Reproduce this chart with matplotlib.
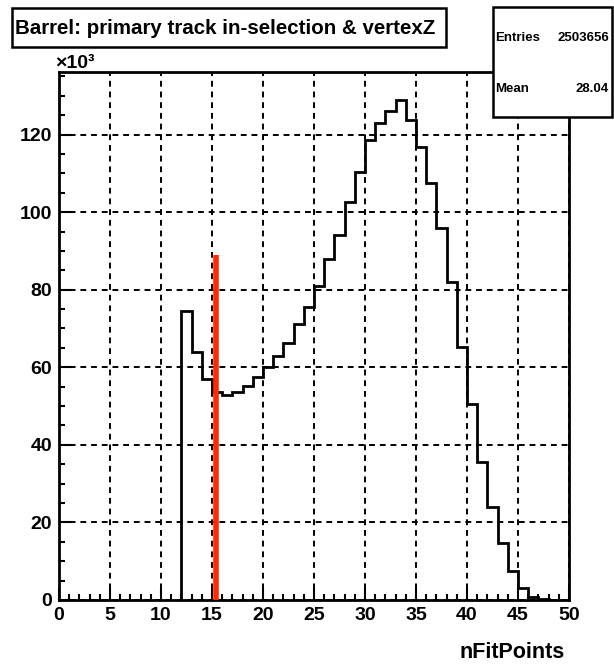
import numpy as np
import matplotlib
matplotlib.use("Agg")
from matplotlib import pyplot as plt
from matplotlib.patches import Rectangle
from matplotlib.ticker import MultipleLocator

# nFitPoints histogram (counts in units of 10^3), one bin per integer
bin_edges = np.arange(12, 49)
counts = [74.5, 64.0, 56.9, 53.7, 52.8, 53.7, 55.2, 57.6, 60.0, 62.9,
          66.3, 71.1, 75.6, 80.9, 87.8, 94.1, 102.7, 110.4, 118.6, 122.9,
          126.0, 129.0, 123.7, 116.8, 107.4, 95.8, 81.9, 65.3, 50.5, 35.6,
          23.9, 14.6, 7.6, 3.0, 0.8, 0.2]
cut_x = 15.4
cut_height = 89
title = "Barrel: primary track in-selection & vertexZ"
n_entries = "2503656"
mean_val = "28.04"

W, H = 614, 666
plt.rcParams['font.family'] = ['Liberation Sans', 'DejaVu Sans']
plt.rcParams['font.weight'] = 'bold'

fig = plt.figure(figsize=(W / 100, H / 100), dpi=100)


def fx(px):
    return px / W


def fy(py):
    return 1 - py / H


ax = fig.add_axes([fx(59), fy(600), fx(569) - fx(59), fy(71.7) - fy(600)])
ax.set_xlim(0, 50)
ax.set_ylim(0, 136.2)

ax.stairs(counts, bin_edges, baseline=0, color='black', lw=2.0, zorder=3)
ax.plot([cut_x, cut_x], [0, cut_height], color='#ff2a00', lw=4.0,
        solid_capstyle='butt', zorder=4)

ax.xaxis.set_major_locator(MultipleLocator(5))
ax.xaxis.set_minor_locator(MultipleLocator(1))
ax.yaxis.set_major_locator(MultipleLocator(20))
ax.yaxis.set_minor_locator(MultipleLocator(5))
ax.grid(True, which='major', color='black', ls=(0, (3, 2.5)), lw=1.4)
ax.tick_params(which='both', direction='in', width=1.5, color='black',
               labelsize=14, top=False, right=False)
ax.tick_params(which='major', length=9, pad=5)
ax.tick_params(which='minor', length=4.5)
for s in ax.spines.values():
    s.set_linewidth(2.0)
ax.set_xticks(np.arange(0, 51, 5))
ax.set_xticklabels([str(v) for v in range(0, 51, 5)], fontweight='bold')
ax.set_yticks(np.arange(0, 121, 20))
ax.set_yticklabels([str(v) for v in range(0, 121, 20)], fontweight='bold')

fig.text(fx(565), fy(652), "nFitPoints", ha='right', va='center',
         fontsize=15.5, fontweight='bold')
fig.text(fx(55), fy(63), "×10³", ha='left', va='center',
         fontsize=14, fontweight='bold')

# title box
fig.add_artist(Rectangle((fx(12), fy(47)), fx(446) - fx(12), fy(8) - fy(47),
                         transform=fig.transFigure, facecolor='white',
                         edgecolor='black', lw=1.8))
fig.text(fx(15), fy(28), title, ha='left', va='center',
         fontsize=14.8, fontweight='bold')

# statistics box
fig.add_artist(Rectangle((fx(493), fy(117)), fx(612) - fx(493), fy(7) - fy(117),
                         transform=fig.transFigure, facecolor='white',
                         edgecolor='black', lw=1.8, zorder=5))
fig.text(fx(495), fy(38), "Entries", ha='left', va='center', fontsize=9.5,
         fontweight='bold', zorder=6)
fig.text(fx(609), fy(38), n_entries, ha='right', va='center', fontsize=9.5,
         fontweight='bold', zorder=6)
fig.text(fx(495), fy(89), "Mean", ha='left', va='center', fontsize=9.5,
         fontweight='bold', zorder=6)
fig.text(fx(609), fy(89), mean_val, ha='right', va='center', fontsize=9.5,
         fontweight='bold', zorder=6)

fig.savefig("out.png", dpi=100)
